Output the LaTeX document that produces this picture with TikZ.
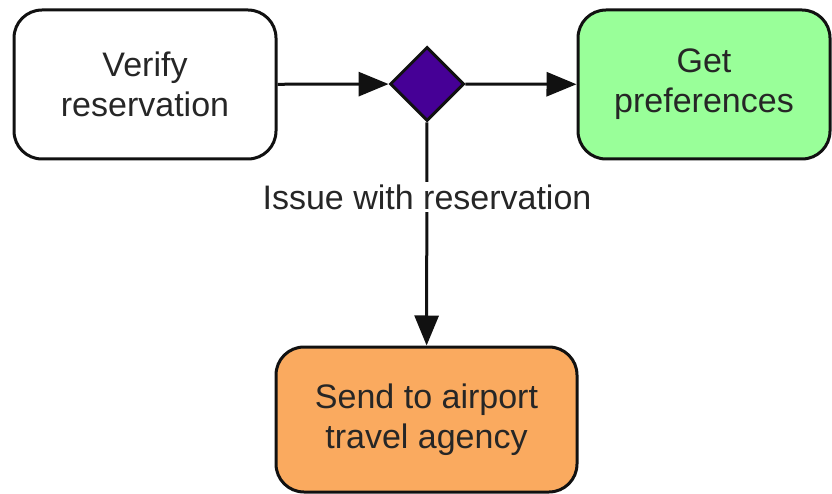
\documentclass[tikz,border=0pt]{standalone}
\usepackage{fontspec}
\setmainfont{Liberation Sans}
\usetikzlibrary{shapes.geometric,arrows.meta}
\definecolor{stepgreen}{HTML}{99FF99}
\definecolor{steporange}{HTML}{FAAA5F}
\definecolor{gatepurple}{HTML}{460096}
\definecolor{inkline}{HTML}{111111}
\tikzset{
  stepbox/.style={draw=inkline, line width=3pt, rounded corners=28pt,
    align=center, inner sep=0pt, font=\fontsize{34}{40}\selectfont,
    text=black!85},
  gate/.style={diamond, draw=inkline, line width=3pt, fill=gatepurple,
    minimum width=74pt, minimum height=74pt, inner sep=0pt},
  flow/.style={draw=inkline, line width=3pt,
    -{Triangle[length=30pt,width=24pt]}},
  flowlabel/.style={fill=white, inner sep=3pt, text=black!85,
    font=\fontsize{34}{40}\selectfont}
}
\begin{document}
\begin{tikzpicture}[x=1pt,y=-1pt]
  \useasboundingbox (0,0) rectangle (832,494);
  \node[stepbox, minimum width=262pt, minimum height=149pt] (verify) at (145,84.5)
    {Verify\\reservation};
  \node[stepbox, fill=stepgreen, minimum width=252pt, minimum height=149pt] (prefs) at (704,84.5)
    {Get\\preferences};
  \node[stepbox, fill=steporange, minimum width=301pt, minimum height=145pt] (agency) at (426.5,419.5)
    {Send to airport\\travel agency};
  \node[gate] (check) at (427,84) {};
  \draw[flow] (verify) -- (check);
  \draw[flow] (check) -- (agency);
  \draw[flow] (check) -- (prefs);
  \node[flowlabel] (issue) at (427,197) {Issue with reservation};
\end{tikzpicture}
\end{document}
